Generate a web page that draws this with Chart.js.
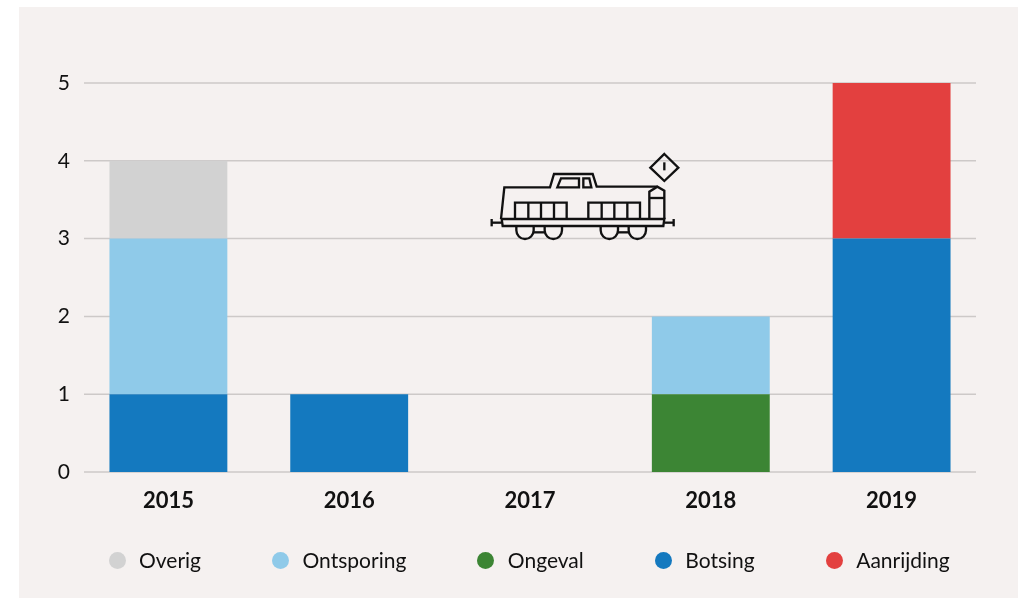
<!DOCTYPE html>
<html>
<head>
<meta charset="utf-8">
<style>
  html, body { margin: 0; padding: 0; background: #fff; }
  #wrap { position: relative; width: 1024px; height: 598px; overflow: hidden; }
  #legenda { position: absolute; left: 108.5px; top: 545px; display: flex; gap: 71px; font: 21px Lato; color: #111; line-height: 30px; }
  #legenda div { display: flex; align-items: center; white-space: nowrap; }
  #legenda i { display: block; width: 17px; height: 17px; border-radius: 50%; margin-right: 13.5px; }
</style>
<script src="https://cdn.jsdelivr.net/npm/chart.js@4"></script>
</head>
<body>
<div id="wrap">
  <canvas id="treinChart" width="1024" height="598"></canvas>
  <div id="legenda"></div>
</div>
<script>
var jaren = ['2015', '2016', '2017', '2018', '2019'];
var botsing    = [1, 1, 0, 0, 3];
var ongeval    = [0, 0, 0, 1, 0];
var ontsporing = [2, 0, 0, 1, 0];
var overig     = [1, 0, 0, 0, 0];
var aanrijding = [0, 0, 0, 0, 2];
var legendaVolgorde = ['Overig', 'Ontsporing', 'Ongeval', 'Botsing', 'Aanrijding'];

var font = 'Lato';
var lijnKleur = '#cdc9c8';

// panel behind the chart
var paneel = {
    id: 'paneel',
    beforeDraw: function (chart) {
        var ctx = chart.ctx;
        ctx.save();
        ctx.fillStyle = '#f5f1f0';
        ctx.fillRect(19, 7, 999, 591);
        ctx.restore();
    }
};

// grid lines stop a bit inside the category band, so drawn by hand from the y scale
var rasterLijnen = {
    id: 'rasterLijnen',
    beforeDatasetsDraw: function (chart) {
        var ctx = chart.ctx, y = chart.scales.y;
        ctx.save();
        ctx.strokeStyle = lijnKleur;
        ctx.lineWidth = 1.5;
        y.ticks.forEach(function (t) {
            var py = y.getPixelForValue(t.value);
            ctx.beginPath();
            ctx.moveTo(84, py);
            ctx.lineTo(976, py);
            ctx.stroke();
        });
        ctx.restore();
    }
};

// locomotive icon in the middle of the chart
var locomotief = {
    id: 'locomotief',
    afterDatasetsDraw: function (chart) {
        var ctx = chart.ctx;
        function pad(punten, dicht) {
            ctx.beginPath();
            punten.forEach(function (p, i) {
                var x = p[0], y = p[1];
                if (i === 0) ctx.moveTo(x, y); else ctx.lineTo(x, y);
            });
            if (dicht) ctx.closePath();
            ctx.stroke();
        }
        ctx.save();
        ctx.translate(480, 145);
        ctx.scale(1 / 3, 1 / 3);
        ctx.strokeStyle = '#111';
        ctx.lineWidth = 7;
        // body
        pad([[63, 222], [73, 127], [210, 127], [222, 87], [338, 87], [350, 125], [532, 125]]);
        pad([[508, 222], [508, 140], [532, 125], [553, 137], [553, 222]]);
        pad([[508, 159], [553, 159]]);
        // windows
        pad([[232, 127], [243, 100], [297, 100], [297, 127]], true);
        pad([[310, 100], [328, 100], [334, 127], [310, 127]], true);
        // grilles
        pad([[105, 222], [105, 173], [260, 173], [260, 222]]);
        pad([[325, 222], [325, 173], [480, 173], [480, 222]]);
        [145, 183, 222, 365, 403, 442].forEach(function (x) {
            pad([[x, 173], [x, 222]]);
        });
        // frame
        pad([[65, 222], [553, 222], [550, 243], [68, 243]], true);
        pad([[35, 233], [65, 233]]);
        pad([[35, 222], [35, 244]]);
        pad([[553, 233], [581, 233]]);
        pad([[581, 222], [581, 244]]);
        // wheels
        [135, 220, 388, 472].forEach(function (x) {
            ctx.beginPath();
            ctx.moveTo(x - 26, 243);
            ctx.lineTo(x - 26, 256);
            ctx.arc(x, 256, 26, Math.PI, 0, true);
            ctx.lineTo(x + 26, 243);
            ctx.stroke();
        });
        pad([[161, 262], [194, 262]]);
        pad([[414, 262], [446, 262]]);
        // warning sign
        pad([[553, 27], [595, 68], [553, 108], [511, 68]], true);
        pad([[553, 52], [553, 76]]);
        ctx.restore();
    }
};

function reeks(label, data, kleur) {
    return {
        label: label,
        data: data,
        backgroundColor: kleur,
        borderWidth: 0,
        stack: 'a',
        barPercentage: 0.652,
        categoryPercentage: 1
    };
}

var grafiek = new Chart(document.getElementById('treinChart').getContext('2d'), {
    type: 'bar',
    data: {
        labels: jaren,
        datasets: [
            reeks('Botsing', botsing, '#1479bf'),
            reeks('Ongeval', ongeval, '#3c8534'),
            reeks('Ontsporing', ontsporing, '#8fcae9'),
            reeks('Overig', overig, '#d2d2d2'),
            reeks('Aanrijding', aanrijding, '#e3403f')
        ]
    },
    plugins: [paneel, rasterLijnen, locomotief],
    options: {
        responsive: false,
        animation: false,
        layout: { padding: { top: 83, right: 42, bottom: 0, left: 0 } },
        scales: {
            x: {
                stacked: true,
                grid: { display: false },
                border: { display: false },
                afterFit: function (scale) { scale.height = 126; },
                ticks: {
                    color: '#111',
                    padding: 8,
                    maxRotation: 0,
                    font: { family: font, size: 22, weight: 'bold' }
                }
            },
            y: {
                stacked: true,
                min: 0,
                max: 5,
                grid: { display: false },
                border: { display: false },
                afterFit: function (scale) { scale.width = 78; },
                ticks: {
                    color: '#111',
                    stepSize: 1,
                    padding: 0,
                    font: { family: font, size: 21 }
                }
            }
        },
        plugins: {
            tooltip: { enabled: false },
            legend: { display: false }
        }
    }
});

// legend with wide, even gaps, which the built-in legend can only do with huge vertical padding
legendaVolgorde.forEach(function (naam) {
    var ds = grafiek.data.datasets.filter(function (d) { return d.label === naam; })[0];
    var item = document.createElement('div');
    var stip = document.createElement('i');
    stip.style.background = ds.backgroundColor;
    item.appendChild(stip);
    item.appendChild(document.createTextNode(naam));
    document.getElementById('legenda').appendChild(item);
});
</script>
</body>
</html>
